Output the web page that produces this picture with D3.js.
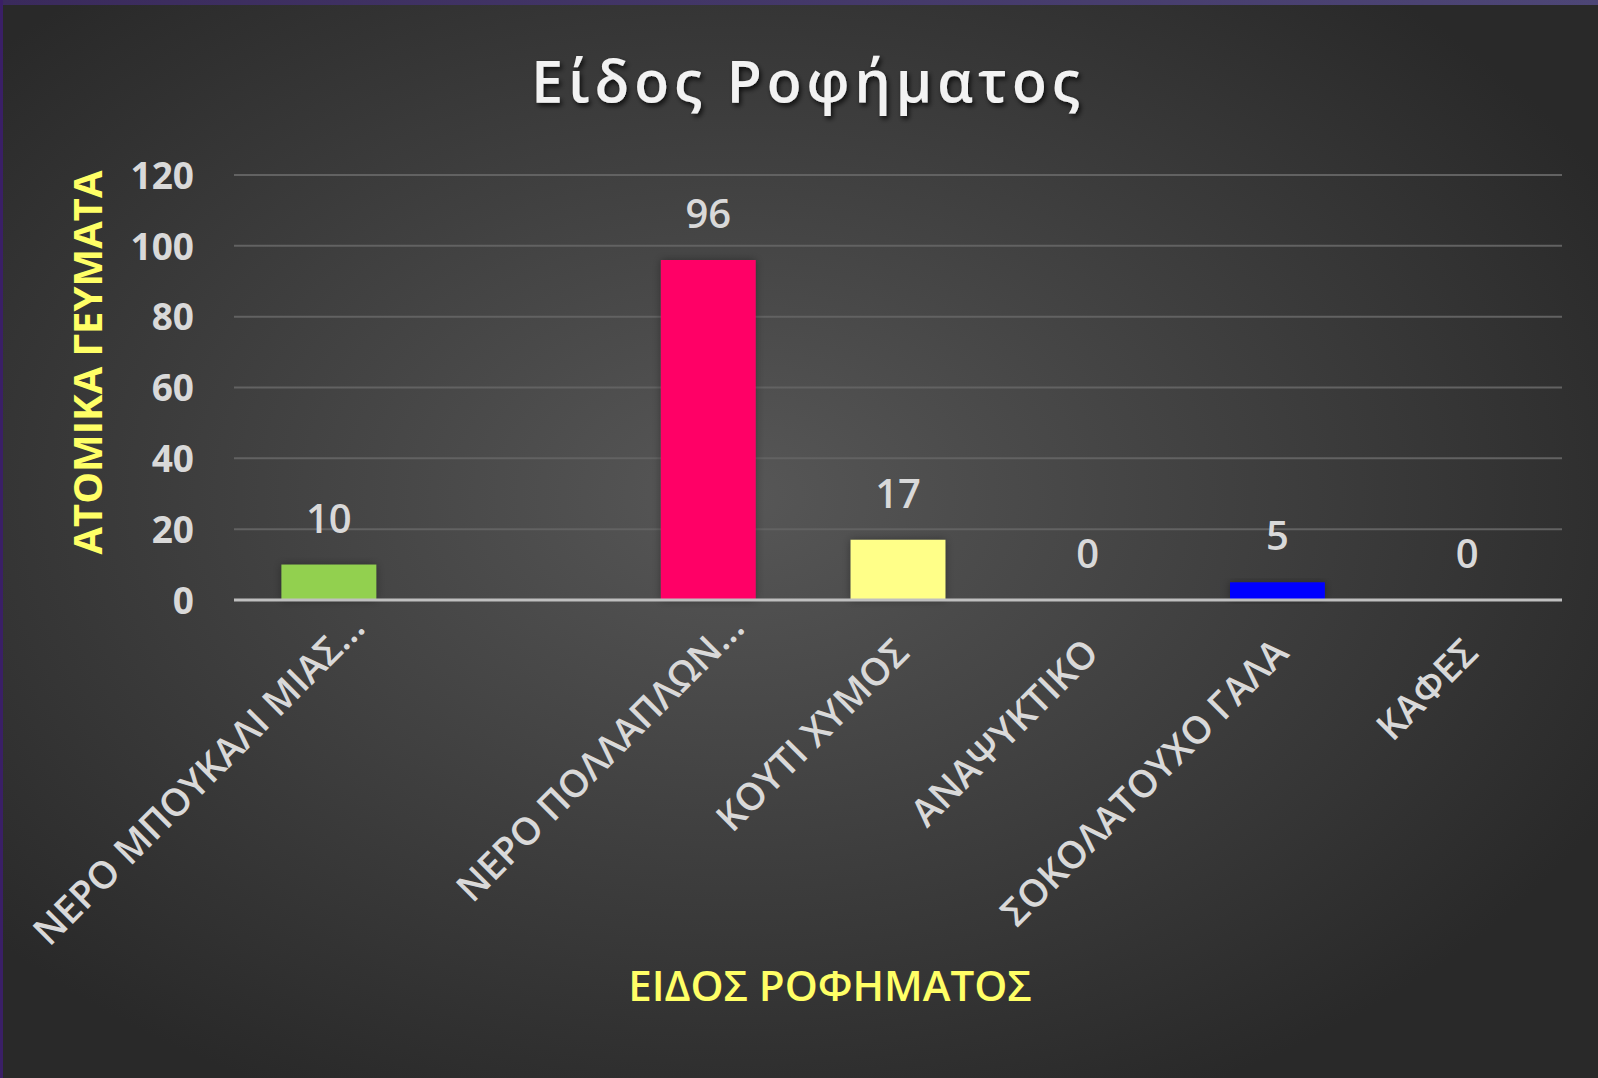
<!DOCTYPE html>
<html>
<head>
<meta charset="utf-8">
<script src="https://cdn.jsdelivr.net/npm/d3@7"></script>
<style>
  html, body { margin: 0; padding: 0; background: #2b2b2b; }
  svg { display: block; }
  text { font-family: "Open Sans", "Noto Sans", sans-serif; }
</style>
</head>
<body>
<div id="chart"></div>
<script>
// data
const categories = ["ΝΕΡΟ ΜΠΟΥΚΑΛΙ ΜΙΑΣ...", " ", "ΝΕΡΟ ΠΟΛΛΑΠΛΩΝ...", "ΚΟΥΤΙ ΧΥΜΟΣ", "ΑΝΑΨΥΚΤΙΚΟ", "ΣΟΚΟΛΑΤΟΥΧΟ ΓΑΛΑ", "ΚΑΦΕΣ"]
const values = [10, null, 96, 17, 0, 5, 0]
const barColors = ["#92D050", "#000000", "#FF0066", "#FFFF88", "#FFC000", "#0000FF", "#7F7F7F"]
const yTicks = [0, 20, 40, 60, 80, 100, 120]

const chartTitle = "Είδος Ροφήματος"
const xTitle = "ΕΙΔΟΣ ΡΟΦΗΜΑΤΟΣ"
const yTitle = "ΑΤΟΜΙΚΑ ΓΕΥΜΑΤΑ"

const W = 1598, H = 1078
const margin = {top: 175, right: 36, bottom: 478, left: 234}

const svg = d3.select("#chart").append("svg")
    .attr("width", W)
    .attr("height", H)

const defs = svg.append("defs")

// background: dark radial gradient
const bg = defs.append("radialGradient")
    .attr("id", "bg")
    .attr("cx", "46%").attr("cy", "46%").attr("r", "62%")
bg.append("stop").attr("offset", "0%").attr("stop-color", "#575757")
bg.append("stop").attr("offset", "100%").attr("stop-color", "#292929")

const topStrip = defs.append("linearGradient").attr("id", "topStrip")
topStrip.append("stop").attr("offset", "0%").attr("stop-color", "#3a2a5c")
topStrip.append("stop").attr("offset", "100%").attr("stop-color", "#4d4676")

const shadow = defs.append("filter").attr("id", "shadow")
    .attr("x", "-10%").attr("y", "-20%").attr("width", "130%").attr("height", "150%")
shadow.append("feDropShadow")
    .attr("dx", 2).attr("dy", 3).attr("stdDeviation", 2.5)
    .attr("flood-color", "#000").attr("flood-opacity", 0.75)

const barShadow = defs.append("filter").attr("id", "barShadow")
    .attr("x", "-20%").attr("y", "-20%").attr("width", "140%").attr("height", "140%")
barShadow.append("feDropShadow")
    .attr("dx", 0).attr("dy", 0).attr("stdDeviation", 4)
    .attr("flood-color", "#000").attr("flood-opacity", 0.35)

svg.append("rect").attr("width", W).attr("height", H).attr("fill", "url(#bg)")
svg.append("rect").attr("width", W).attr("height", 5).attr("fill", "url(#topStrip)")
svg.append("rect").attr("width", 3).attr("height", H).attr("fill", "#3a1f66")

// scales
const x = d3.scaleBand()
    .domain(categories)
    .range([margin.left, W - margin.right])

const y = d3.scaleLinear()
    .domain([0, 120])
    .range([H - margin.bottom, margin.top])

// gridlines
svg.append("g")
    .selectAll("line")
    .data(yTicks.filter(d => d > 0))
    .enter().append("line")
    .attr("x1", margin.left)
    .attr("x2", W - margin.right)
    .attr("y1", d => y(d))
    .attr("y2", d => y(d))
    .attr("stroke", "#626262")
    .attr("stroke-width", 2)

// y axis
const yAxis = d3.axisLeft(y).tickValues(yTicks).tickSize(0).tickPadding(0)
const yG = svg.append("g")
    .attr("transform", `translate(${margin.left - 40}, 0)`)
    .call(yAxis)
yG.select(".domain").remove()
yG.selectAll("text")
    .attr("fill", "#D9D9D9")
    .attr("font-size", 37)
    .attr("font-weight", 700)
    .attr("dy", "0.36em")

// bars
const barData = categories.map((c, i) => ({cat: c, value: values[i], color: barColors[i]}))
    .filter(d => d.value !== null)

const barW = x.bandwidth() * 0.5

svg.append("g")
    .selectAll("rect")
    .data(barData.filter(d => d.value > 0))
    .enter().append("rect")
    .attr("x", d => x(d.cat) + (x.bandwidth() - barW) / 2)
    .attr("y", d => y(d.value))
    .attr("width", barW)
    .attr("height", d => y(0) - y(d.value))
    .attr("fill", d => d.color)
    .attr("filter", "url(#barShadow)")

// x axis line
svg.append("line")
    .attr("x1", margin.left)
    .attr("x2", W - margin.right)
    .attr("y1", y(0))
    .attr("y2", y(0))
    .attr("stroke", "#BFBFBF")
    .attr("stroke-width", 3)

// data labels
svg.append("g")
    .selectAll("text")
    .data(barData)
    .enter().append("text")
    .attr("x", d => x(d.cat) + x.bandwidth() / 2)
    .attr("y", d => y(d.value) - 32)
    .attr("text-anchor", "middle")
    .attr("fill", "#D9D9D9")
    .attr("font-size", 40)
    .attr("font-weight", 600)
    .text(d => d.value)

// category labels, rotated; truncated ones sit a bit further out like Excel does
const xAxis = d3.axisBottom(x).tickSize(0).tickPadding(0)
const xG = svg.append("g")
    .attr("transform", `translate(0, ${y(0)})`)
    .call(xAxis)
xG.select(".domain").remove()
xG.selectAll("text")
    .attr("fill", "#D9D9D9")
    .attr("font-size", 38)
    .attr("font-weight", 600)
    .attr("text-anchor", "end")
    .attr("dy", 0)
    .attr("transform", d => d.endsWith("...")
        ? "translate(38, 30) rotate(-45)"
        : "translate(13, 55) rotate(-45)")

// titles
svg.append("text")
    .attr("x", 808)
    .attr("y", 102)
    .attr("text-anchor", "middle")
    .attr("fill", "#F2F2F2")
    .attr("font-size", 57)
    .attr("font-weight", 600)
    .attr("letter-spacing", 5)
    .attr("filter", "url(#shadow)")
    .text(chartTitle)

svg.append("text")
    .attr("x", 830)
    .attr("y", 1001)
    .attr("text-anchor", "middle")
    .attr("fill", "#FFFF66")
    .attr("font-size", 42)
    .attr("font-weight", 600)
    .text(xTitle)

svg.append("text")
    .attr("transform", `translate(102, ${(margin.top + y(0)) / 2 - 25}) rotate(-90)`)
    .attr("text-anchor", "middle")
    .attr("fill", "#FFFF66")
    .attr("font-size", 40)
    .attr("font-weight", 700)
    .text(yTitle)
</script>
</body>
</html>
